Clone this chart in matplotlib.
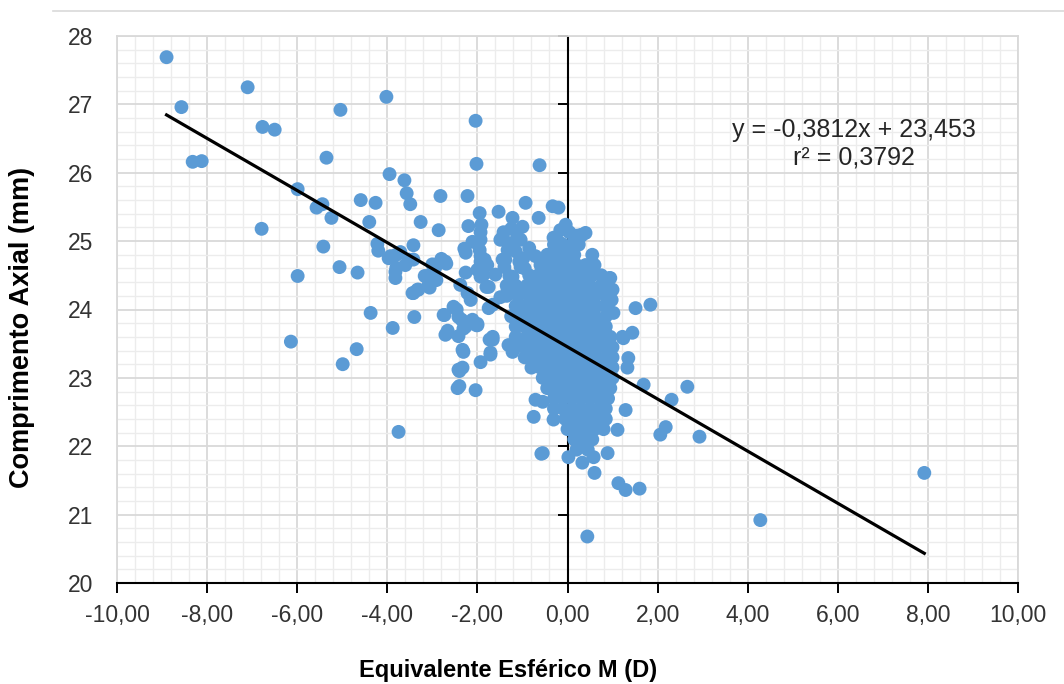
import matplotlib
matplotlib.use("Agg")
import matplotlib.pyplot as plt
from matplotlib.lines import Line2D
from matplotlib.ticker import MultipleLocator, FuncFormatter

plt.rcParams["font.family"] = ["Liberation Sans", "DejaVu Sans"]

# scattered eyes (equivalente esferico, comprimento axial)
es_outer = [
    -8.90, -8.57, -8.32, -8.12, -7.10, -6.77, -6.50, -6.79, -5.99, -5.99, -6.14,
    -5.35, -5.57, -5.44, -5.24, -5.42, -5.04, -5.06, -4.99, -4.66, -4.68, -4.59,
    -4.40, -4.37, -4.26, -4.22, -4.20, -4.02, -3.95, -3.93, -3.88, -3.75, -3.80,
    -3.82, -3.71, -3.62, -3.57, -3.49, -3.42, -3.53, -3.42, -3.40, -3.31, -3.26,
    -3.17, -3.09, -3.00, -2.91, -2.86, -2.82, -2.80, -2.73, -2.66, -2.69, -2.46,
    -2.42, -2.40, -2.40, -2.35, -2.33, -2.29, -2.26, -2.22, -2.20, -2.11, -2.15,
    -2.11, -2.04, -2.02, -2.04, -2.02, -1.95, -1.93, -1.93, -1.93, -1.93, -1.84,
    -1.78, -1.73, -1.71, -1.80, -1.66, -1.53, -1.49, -1.42, -1.38, -1.29, -1.22,
    -1.20, -1.11, -1.07, -1.00, -0.93, -0.93, -1.31, -1.22, -1.15, -0.71, -0.64,
    -0.62, -0.58, -0.42, -0.33, -0.20, -0.24, -0.16, -0.04, 0.04, 0.20, 0.31,
    0.40, -0.71, -0.55, -0.75, -0.31, -0.55, 0.02, 0.33, 0.58, 0.60, 0.89,
    1.11, 1.29, 1.69, 2.66, 2.31, 2.18, 2.06, 2.93, 1.13, 1.29, 1.60, 1.35,
    1.33, 1.24, 1.44, 0.93, 0.98, 1.00, 1.84, 1.51, 1.02, 0.80, 1.22, 4.28,
    0.44, 7.92, -2.44, -2.42, -2.33, -2.31, -1.71, -1.93, -1.66, -2.66, -2.31,
    -2.00, -1.91, -1.44, -1.04, -1.27, -0.31, 0.29, -0.16, -1.95, -2.26, -1.33,
    -0.98, -1.44, -1.93, -2.00, -1.86, -1.60, -1.04, 0.11, -2.71, 0.95, -1.22,
    -1.75, -1.33, -1.49, -2.38, -2.22, 0.95, 0.89, -2.53, -2.75, -2.42, -1.75,
    -2.00, -2.26, -1.66, -3.97, -3.80, -3.82, -3.60, -3.42, -3.11, -3.00, -2.93,
    -2.75, -3.44, -3.33, -3.06, -2.71, -1.40, -1.15, -0.85, -1.25, -0.95,
]
al_outer = [
    27.69, 26.96, 26.16, 26.17, 27.25, 26.67, 26.63, 25.18, 25.76, 24.49, 23.53,
    26.22, 25.49, 25.54, 25.34, 24.92, 26.92, 24.62, 23.20, 24.54, 23.42, 25.60,
    25.28, 23.95, 25.56, 24.96, 24.86, 27.11, 25.98, 24.78, 23.73, 22.21, 24.61,
    24.46, 24.84, 25.89, 25.70, 25.54, 24.94, 24.73, 24.24, 23.89, 24.29, 25.28,
    24.49, 24.35, 24.66, 24.43, 25.16, 25.66, 24.74, 23.92, 23.69, 24.67, 24.00,
    23.61, 23.10, 22.88, 23.85, 23.41, 24.89, 24.54, 25.66, 25.22, 24.99, 24.14,
    23.85, 22.82, 23.77, 26.76, 26.13, 25.41, 25.13, 25.02, 24.78, 24.48, 24.73,
    24.65, 23.56, 23.34, 24.33, 24.07, 25.43, 25.02, 25.13, 24.73, 24.49, 25.34,
    24.96, 25.06, 24.70, 25.21, 25.56, 24.29, 23.48, 23.38, 23.51, 24.78, 25.34,
    26.11, 21.89, 24.80, 25.51, 25.49, 25.02, 25.16, 25.24, 25.13, 25.08, 25.08,
    25.12, 22.68, 22.65, 22.43, 22.39, 21.90, 21.84, 21.76, 21.84, 21.61, 21.90,
    22.24, 22.53, 22.90, 22.87, 22.68, 22.28, 22.17, 22.14, 21.46, 21.36, 21.38, 23.29,
    23.15, 23.58, 23.66, 24.46, 24.14, 24.29, 24.07, 24.02, 23.95, 23.85, 23.60, 20.92,
    20.68, 21.61, 22.85, 23.12, 23.15, 23.38, 23.37, 23.23, 23.56, 23.66, 23.72,
    23.77, 25.24, 25.06, 25.02, 24.97, 25.05, 25.09, 24.97, 24.87, 24.83, 24.87,
    24.75, 24.73, 24.70, 24.58, 24.51, 24.51, 24.62, 24.75, 24.70, 24.46, 24.48,
    24.33, 24.29, 24.18, 24.36, 24.24, 24.29, 24.14, 24.04, 23.92, 23.89, 24.02,
    23.79, 23.75, 23.60, 24.75, 24.80, 24.55, 24.65, 24.73, 24.49, 24.48, 24.62,
    24.70, 24.24, 24.29, 24.32, 23.63, 24.62, 24.85, 24.90, 25.18, 24.60,
]

# dense core of the cloud, read row by row
core_rows_al = [24.95, 24.80, 24.65, 24.50, 24.35, 24.20, 24.05, 23.90, 23.75,
                23.60, 23.45, 23.30, 23.15, 23.00, 22.85, 22.70, 22.55, 22.40,
                22.25, 22.10, 21.95]
core_rows_es = [
    [-0.30, -0.10, 0.10, 0.25],
    [-0.45, -0.25, -0.05, 0.15, 0.55],
    [-0.60, -0.40, -0.20, 0.00, 0.20, 0.40, 0.60],
    [-0.85, -0.65, -0.45, -0.25, -0.05, 0.15, 0.35, 0.55, 0.75],
    [-1.35, -1.15, -0.90, -0.70, -0.50, -0.30, -0.10, 0.10, 0.30, 0.50, 0.75],
    [-1.35, -1.10, -0.85, -0.60, -0.40, -0.20, 0.00, 0.20, 0.40, 0.60, 0.85],
    [-1.15, -0.95, -0.75, -0.55, -0.35, -0.15, 0.05, 0.25, 0.45, 0.65, 0.85],
    [-1.25, -1.00, -0.80, -0.60, -0.40, -0.20, 0.00, 0.20, 0.40, 0.60, 0.85],
    [-1.15, -0.95, -0.75, -0.55, -0.35, -0.15, 0.05, 0.25, 0.45, 0.65, 0.85],
    [-1.15, -0.90, -0.70, -0.50, -0.30, -0.10, 0.10, 0.30, 0.50, 0.70, 0.95],
    [-1.15, -0.95, -0.75, -0.55, -0.35, -0.15, 0.05, 0.25, 0.45, 0.65, 0.85, 1.00],
    [-0.95, -0.75, -0.55, -0.35, -0.15, 0.05, 0.25, 0.45, 0.65, 0.85, 1.00],
    [-0.80, -0.60, -0.40, -0.20, 0.00, 0.20, 0.40, 0.60, 0.80, 1.00],
    [-0.55, -0.35, -0.15, 0.05, 0.25, 0.45, 0.65, 0.85, 1.00],
    [-0.45, -0.25, -0.05, 0.15, 0.35, 0.55, 0.75, 0.95],
    [-0.30, -0.10, 0.10, 0.30, 0.50, 0.70, 0.90],
    [-0.30, -0.10, 0.10, 0.30, 0.50, 0.70, 0.85],
    [-0.05, 0.15, 0.35, 0.55, 0.75, 0.85],
    [0.00, 0.20, 0.40, 0.60, 0.80],
    [0.15, 0.35, 0.55],
    [0.20, 0.45],
]

# trend line given on the chart
slope = -0.3812
intercept = 23.453
r2 = 0.3792

x_ticks = [-10, -8, -6, -4, -2, 0, 2, 4, 6, 8, 10]
y_ticks = [20, 21, 22, 23, 24, 25, 26, 27, 28]

es_core = [x for row in core_rows_es for x in row]
al_core = [y for y, row in zip(core_rows_al, core_rows_es) for _ in row]
es_all = es_outer + es_core
al_all = al_outer + al_core

W, H = 1064, 684
fig = plt.figure(figsize=(W / 100, H / 100), dpi=100)
ax = fig.add_axes([117 / W, 1 - 583 / H, 901 / W, 547 / H])

ax.set_xlim(-10, 10)
ax.set_ylim(20, 28)
ax.set_xticks(x_ticks)
ax.set_yticks(y_ticks)
ax.xaxis.set_minor_locator(MultipleLocator(0.4))
ax.yaxis.set_minor_locator(MultipleLocator(0.2))
ax.xaxis.set_major_formatter(FuncFormatter(lambda v, _: f"{v:.2f}".replace(".", ",")))
ax.yaxis.set_major_formatter(FuncFormatter(lambda v, _: f"{v:.0f}"))

ax.grid(which="minor", color="#ececec", lw=1.0)
ax.grid(which="major", color="#d9d9d9", lw=1.3)
ax.set_axisbelow(True)

for s in ["left", "top", "right"]:
    ax.spines[s].set_color("#d9d9d9")
    ax.spines[s].set_linewidth(1.3)
ax.spines["bottom"].set_color("black")
ax.spines["bottom"].set_linewidth(1.5)

ax.tick_params(axis="x", which="major", direction="out", length=7, width=1.4,
               color="black", labelsize=16.5, labelcolor="#333333", pad=8)
ax.tick_params(axis="y", which="major", length=0, labelsize=16.5,
               labelcolor="#333333", pad=17)
ax.tick_params(which="minor", length=0)

# vertical axis crossing at zero, with its tick marks
ax.axvline(0, color="black", lw=1.5, zorder=1.5)
ax.plot([0] * len(y_ticks), y_ticks, linestyle="none", marker=0,
        markersize=7, mew=1.4, color="black", zorder=1.5, clip_on=False)

ax.scatter(es_all, al_all, s=100, color="#5b9bd5", edgecolors="none", zorder=2)

x_fit = [min(es_all), max(es_all)]
y_fit = [slope * x + intercept for x in x_fit]
ax.plot(x_fit, y_fit, color="black", lw=2.3, zorder=3)

fig.text(854 / W, 1 - 130 / H, f"y = {slope:.4f}x + {intercept:.3f}".replace(".", ","),
         ha="center", va="center", fontsize=18, color="#262626")
fig.text(854 / W, 1 - 158 / H, f"r² = {r2:.4f}".replace(".", ","),
         ha="center", va="center", fontsize=18, color="#262626")

fig.text(508 / W, 1 - 670 / H, "Equivalente Esférico M (D)", ha="center", va="center",
         fontsize=17, fontweight="bold", color="black")
fig.text(22 / W, 1 - 327 / H, "Comprimento Axial (mm)", ha="center", va="center",
         rotation=90, fontsize=19.5, fontweight="bold", color="black")

fig.add_artist(Line2D([53 / W, 1], [1 - 11 / H, 1 - 11 / H], color="#d9d9d9", lw=1.2))

fig.savefig("out.png", dpi=100)
